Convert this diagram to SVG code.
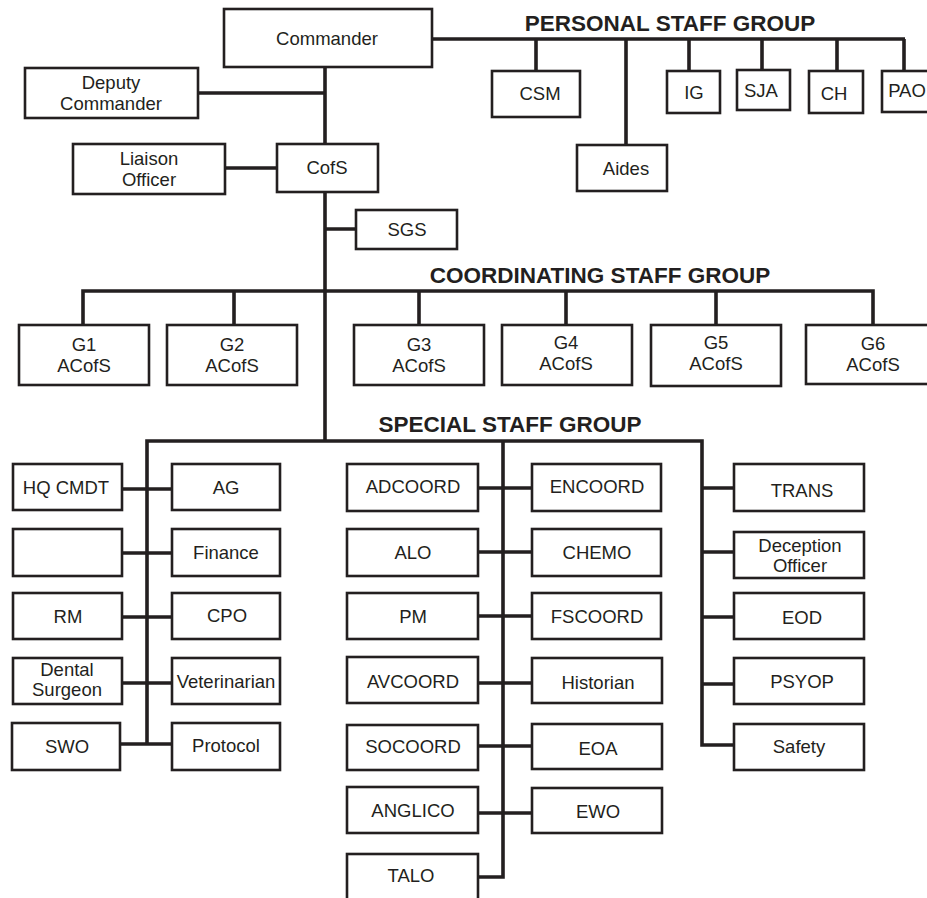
<svg xmlns="http://www.w3.org/2000/svg" width="927" height="898" viewBox="0 0 927 898">
<style>
rect{fill:#fff;stroke:#231f20;stroke-width:2.6}
text{font-family:"Liberation Sans",Arial,sans-serif;font-size:18.5px;fill:#231f20;text-anchor:middle}
.hdr{font-weight:bold;font-size:22.5px}
#connectors path{fill:none;stroke:#231f20;stroke-width:3.6}
</style>
<rect x="0" y="0" width="927" height="898" style="stroke:none;fill:#fff"/>
<g id="connectors">
<path d="M432 39H905M536 39V71M626 39V145M689 39V71M762 39V70M837 39V71M904 39V71"/>
<path d="M325 67V144M198 93H325M225 168H277M325 192V441M325 229H356"/>
<path d="M83 325V291H873V325M234 291V325M419 291V325M566 291V325M716 291V325"/>
<path d="M147 744V441H702V745H734M503 441V877H478"/>
<path d="M122 489H172M122 553H172M122 617H172M122 683H172M120 744H172"/>
<path d="M478 488H532M478 552H532M478 616H532M478 683H532M478 746H532M478 813H532"/>
<path d="M702 488H734M702 552H734M702 617H734M702 684H734"/>
</g>
<g id="hdr-personal"><text class="hdr" x="670" y="31">PERSONAL STAFF GROUP</text></g>
<g id="hdr-coord"><text class="hdr" x="600" y="283">COORDINATING STAFF GROUP</text></g>
<g id="hdr-special"><text class="hdr" x="510" y="432">SPECIAL STAFF GROUP</text></g>

<g id="commander"><rect x="224" y="9" width="208" height="58"/><text x="327" y="45">Commander</text></g>
<g id="deputy"><rect x="25" y="68" width="173" height="50"/><text x="111" y="89">Deputy</text><text x="111" y="110">Commander</text></g>
<g id="liaison"><rect x="73" y="144" width="152" height="50"/><text x="149" y="165">Liaison</text><text x="149" y="186">Officer</text></g>
<g id="cofs"><rect x="277" y="144" width="101" height="48"/><text x="327" y="174">CofS</text></g>
<g id="sgs"><rect x="356" y="210" width="101" height="39"/><text x="407" y="236">SGS</text></g>

<g id="csm"><rect x="492" y="71" width="88" height="46"/><text x="540" y="100">CSM</text></g>
<g id="aides"><rect x="577" y="145" width="90" height="46"/><text x="626" y="175">Aides</text></g>
<g id="ig"><rect x="667" y="71" width="53" height="42"/><text x="694" y="99">IG</text></g>
<g id="sja"><rect x="737" y="70" width="53" height="40"/><text x="761" y="97">SJA</text></g>
<g id="ch"><rect x="809" y="71" width="54" height="42"/><text x="834" y="100">CH</text></g>
<g id="pao"><rect x="882" y="71" width="60" height="41"/><text x="907" y="97">PAO</text></g>

<g id="g1"><rect x="19" y="325" width="130" height="60"/><text x="84" y="351">G1</text><text x="84" y="372">ACofS</text></g>
<g id="g2"><rect x="167" y="325" width="130" height="60"/><text x="232" y="351">G2</text><text x="232" y="372">ACofS</text></g>
<g id="g3"><rect x="354" y="325" width="130" height="60"/><text x="419" y="351">G3</text><text x="419" y="372">ACofS</text></g>
<g id="g4"><rect x="502" y="325" width="130" height="60"/><text x="566" y="349">G4</text><text x="566" y="370">ACofS</text></g>
<g id="g5"><rect x="651" y="325" width="130" height="61"/><text x="716" y="349">G5</text><text x="716" y="370">ACofS</text></g>
<g id="g6"><rect x="806" y="325" width="134" height="59"/><text x="873" y="350">G6</text><text x="873" y="371">ACofS</text></g>

<g id="hqcmdt"><rect x="13" y="464" width="109" height="46"/><text x="66" y="494">HQ CMDT</text></g>
<g id="blank"><rect x="13" y="529" width="109" height="47"/></g>
<g id="rm"><rect x="13" y="593" width="109" height="46"/><text x="68" y="623">RM</text></g>
<g id="dental"><rect x="13" y="658" width="109" height="46"/><text x="67" y="676">Dental</text><text x="67" y="696">Surgeon</text></g>
<g id="swo"><rect x="12" y="723" width="108" height="47"/><text x="67" y="753">SWO</text></g>
<g id="ag"><rect x="172" y="464" width="108" height="46"/><text x="226" y="494">AG</text></g>
<g id="finance"><rect x="172" y="529" width="108" height="47"/><text x="226" y="559">Finance</text></g>
<g id="cpo"><rect x="172" y="593" width="108" height="46"/><text x="227" y="622">CPO</text></g>
<g id="vet"><rect x="172" y="658" width="108" height="46"/><text x="226" y="688">Veterinarian</text></g>
<g id="protocol"><rect x="172" y="723" width="108" height="47"/><text x="226" y="752">Protocol</text></g>

<g id="adcoord"><rect x="347" y="464" width="131" height="47"/><text x="413" y="493">ADCOORD</text></g>
<g id="alo"><rect x="347" y="529" width="131" height="47"/><text x="413" y="559">ALO</text></g>
<g id="pm"><rect x="347" y="593" width="131" height="46"/><text x="413" y="623">PM</text></g>
<g id="avcoord"><rect x="347" y="657" width="131" height="46"/><text x="413" y="688">AVCOORD</text></g>
<g id="socoord"><rect x="347" y="725" width="131" height="45"/><text x="413" y="753">SOCOORD</text></g>
<g id="anglico"><rect x="347" y="787" width="131" height="46"/><text x="413" y="817">ANGLICO</text></g>
<g id="talo"><rect x="347" y="854" width="131" height="60"/><text x="411" y="882">TALO</text></g>
<g id="encoord"><rect x="532" y="464" width="129" height="47"/><text x="597" y="493">ENCOORD</text></g>
<g id="chemo"><rect x="532" y="529" width="129" height="47"/><text x="597" y="559">CHEMO</text></g>
<g id="fscoord"><rect x="532" y="593" width="129" height="46"/><text x="597" y="623">FSCOORD</text></g>
<g id="historian"><rect x="532" y="658" width="130" height="45"/><text x="598" y="689">Historian</text></g>
<g id="eoa"><rect x="532" y="724" width="130" height="45"/><text x="598" y="755">EOA</text></g>
<g id="ewo"><rect x="532" y="788" width="130" height="45"/><text x="598" y="818">EWO</text></g>

<g id="trans"><rect x="734" y="464" width="130" height="47"/><text x="802" y="497">TRANS</text></g>
<g id="deception"><rect x="734" y="532" width="130" height="46"/><text x="800" y="552">Deception</text><text x="800" y="572">Officer</text></g>
<g id="eod"><rect x="734" y="593" width="130" height="46"/><text x="802" y="624">EOD</text></g>
<g id="psyop"><rect x="734" y="658" width="130" height="46"/><text x="802" y="688">PSYOP</text></g>
<g id="safety"><rect x="734" y="724" width="130" height="46"/><text x="799" y="753">Safety</text></g>
</svg>
